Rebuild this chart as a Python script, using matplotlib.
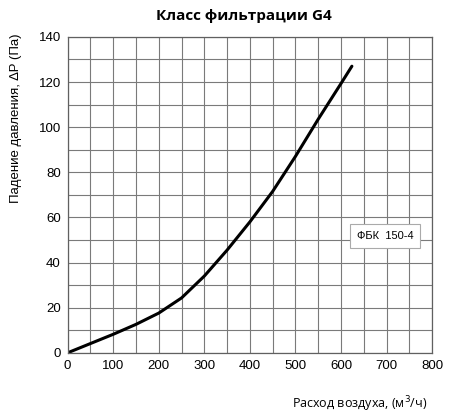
import matplotlib
matplotlib.use("Agg")
import matplotlib.pyplot as plt

# расход воздуха, м3/ч и падение давления, Па
flow = [0, 50, 100, 150, 200, 250, 300, 350, 400, 450, 500, 550, 600, 624]
dp = [0, 4.1, 8.2, 12.6, 17.6, 24.3, 34.0, 45.5, 58.0, 71.5, 87.0, 103.5, 119.3, 127.0]

x_ticks = [0, 100, 200, 300, 400, 500, 600, 700, 800]
y_ticks = [0, 20, 40, 60, 80, 100, 120, 140]
model = "ФБК  150-4"

fig = plt.figure(figsize=(4.51, 4.19), dpi=100)
ax = fig.add_axes([0.150, 0.158, 0.808, 0.754])

ax.plot(flow, dp, color="black", linewidth=2.2, solid_capstyle="round",
        solid_joinstyle="round")

ax.set_xlim(0, 800)
ax.set_ylim(0, 140)
ax.set_xticks(x_ticks)
ax.set_yticks(y_ticks)
ax.set_xticks(range(0, 801, 50), minor=True)
ax.set_yticks(range(0, 141, 10), minor=True)
ax.grid(True, which="both", color="#7a7a7a", linewidth=0.8)
ax.tick_params(which="both", length=0, labelsize=9.5, pad=5)
for lbl in ax.get_xticklabels() + ax.get_yticklabels():
    lbl.set_family("Liberation Sans")
for s in ax.spines.values():
    s.set_color("#606060")
    s.set_linewidth(0.9)

ax.text(697, 51.7, model, ha="center", va="center", fontsize=8,
        family="Liberation Sans",
        bbox=dict(boxstyle="square,pad=0.6", facecolor="white", edgecolor="#aaaaaa", linewidth=0.8))

fig.text(0.54, 0.963, "Класс фильтрации G4", ha="center", va="center",
         fontsize=11, fontweight="bold", family="Open Sans")
fig.text(0.947, 0.035, "Расход воздуха, (м$^3$/ч)", ha="right", va="center",
         fontsize=9, family="Open Sans")
fig.text(0.035, 0.718, "Падение давления, ∆P (Па)", ha="center", va="center",
         rotation=90, fontsize=9.5, family="Liberation Sans")

fig.savefig("out.png", dpi=100)
